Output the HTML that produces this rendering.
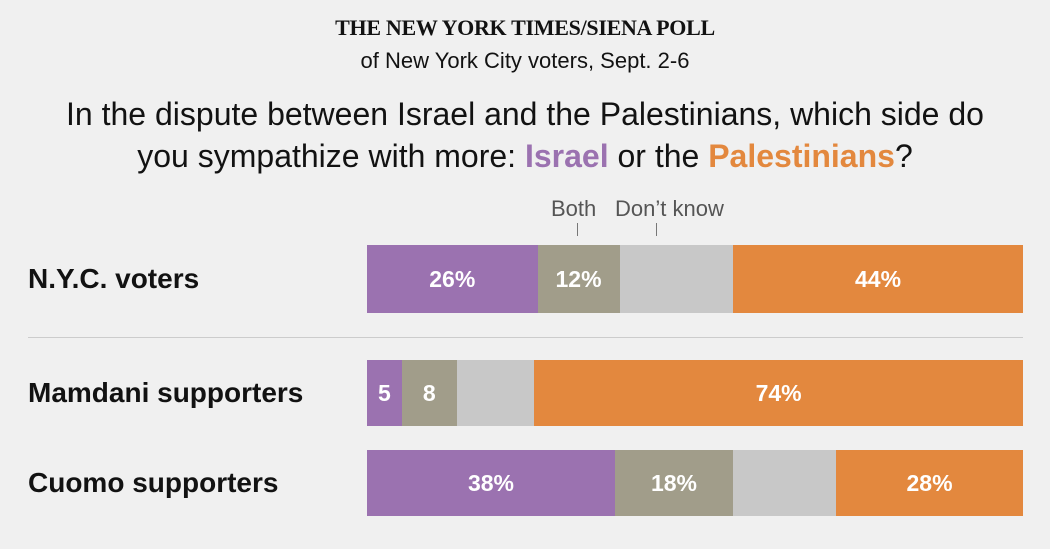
<!DOCTYPE html>
<html><head><meta charset="utf-8"><style>
body{margin:0;width:1050px;height:549px;background:#f0f0f0;font-family:"Liberation Sans",sans-serif;position:relative;overflow:hidden;color:#121212}
.abs{position:absolute}
.t{left:0;width:1050px;text-align:center;white-space:nowrap}
.seg{position:absolute;display:flex;align-items:center;justify-content:center;color:#fff;font-weight:bold;font-size:23px}
.lab{position:absolute;left:28px;font-weight:bold;font-size:28px;white-space:nowrap}
</style></head><body>
<div class="abs t" style="top:15px;font-family:'Liberation Serif',serif;font-weight:bold;font-size:22px;letter-spacing:-0.3px">THE NEW YORK TIMES/SIENA POLL</div>
<div class="abs t" style="top:48px;font-size:22px">of New York City voters, Sept. 2-6</div>
<div class="abs t" style="top:93px;font-size:32px;line-height:42px">In the dispute between Israel and the Palestinians, which side do<br>you sympathize with more: <b style="color:#9b72b0">Israel</b> or the <b style="color:#e3883e">Palestinians</b>?</div>
<div class="abs" style="left:551px;top:196px;font-size:22px;color:#555">Both</div>
<div class="abs" style="left:615px;top:196px;font-size:22px;color:#555">Don’t know</div>
<div class="abs" style="left:577px;top:223px;width:1px;height:13px;background:#777"></div>
<div class="abs" style="left:656px;top:223px;width:1px;height:13px;background:#777"></div>
<div class="abs" style="left:28px;top:337px;width:995px;height:1px;background:#ccc"></div>
<div id="chart"></div>
<script>
const groups=["N.Y.C. voters","Mamdani supporters","Cuomo supporters"];
const israel=[26,5.3,37.8];
const both=[12.5,8.4,18];
const dontKnow=[17.3,11.8,15.7];
const palestinians=[44.2,74.5,28.5];
const israelLabels=["26%","5","38%"];
const bothLabels=["12%","8","18%"];
const palLabels=["44%","74%","28%"];
const X0=367,W=656;
const rowTop=[245,360,450],rowH=[68,66,66];
const x=v=>v/100*W;
const colors=["#9b72b0","#a19d8a","#c8c8c8","#e3883e"];
const names=["israel","both","dont-know","palestinians"];
const root=document.getElementById('chart');
groups.forEach((g,i)=>{
  const l=document.createElement('div');
  l.className='lab';
  
  
  l.style.top=(rowTop[i]+rowH[i]/2-16)+'px';
  l.textContent=g;root.appendChild(l);
  const vals=[israel[i],both[i],dontKnow[i],palestinians[i]];
  const labs=[israelLabels[i],bothLabels[i],"",palLabels[i]];
  let acc=0;
  vals.forEach((v,k)=>{
    const s=document.createElement('div');
    s.className='seg';
    
    
    s.style.left=(X0+x(acc))+'px';s.style.width=x(v)+'px';
    s.style.top=rowTop[i]+'px';s.style.height=rowH[i]+'px';
    s.style.background=colors[k];s.textContent=labs[k];
    root.appendChild(s);acc+=v;
  });
});
</script>
</body></html>
